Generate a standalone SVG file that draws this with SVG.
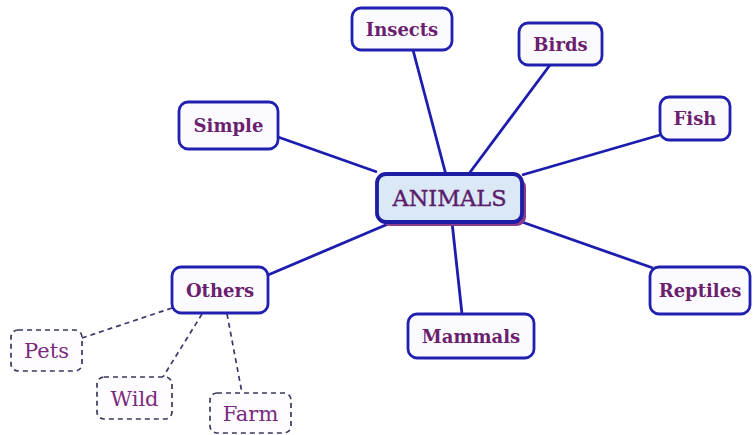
<svg xmlns="http://www.w3.org/2000/svg" width="753" height="435" viewBox="0 0 753 435">
<style>
.node rect{fill:#fbfbff;stroke:#2020b0;stroke-width:2.8}
.node text{font-family:"DejaVu Serif","Liberation Serif",serif;font-weight:bold;font-size:18px;fill:#6b1f6e;text-anchor:middle}
.sub rect{fill:#fefcff;stroke:#38385c;stroke-width:1.7;stroke-dasharray:5 4}
.sub text{font-family:"DejaVu Serif","Liberation Serif",serif;font-size:21px;fill:#7a2a7e;text-anchor:middle}
.edge{stroke:#1c1cae;stroke-width:2.8;fill:none}
.dash{stroke:#38386a;stroke-width:1.7;stroke-dasharray:5 4;fill:none}
</style>
<rect width="753" height="435" fill="#ffffff"/>
<g id="connectors">
<line class="edge" x1="413" y1="50" x2="446" y2="175"/>
<line class="edge" x1="550" y1="65" x2="468" y2="175"/>
<line class="edge" x1="660" y1="135" x2="522" y2="175"/>
<line class="edge" x1="278" y1="137" x2="377" y2="172"/>
<line class="edge" x1="268" y1="275" x2="388" y2="224"/>
<line class="edge" x1="452" y1="222" x2="462" y2="314"/>
<line class="edge" x1="522" y1="222" x2="653" y2="268"/>
<line class="dash" x1="172" y1="308" x2="82" y2="338"/>
<line class="dash" x1="202" y1="314" x2="163" y2="377"/>
<line class="dash" x1="227" y1="314" x2="242" y2="393"/>
</g>
<g id="animals">
<rect x="381" y="178" width="145" height="48" rx="9" fill="#8c3c8c"/>
<rect x="377" y="174" width="145" height="48" rx="9" fill="#dbe9f6" stroke="#1c1ca4" stroke-width="3.8"/>
<text x="449.5" y="206" font-family="DejaVu Serif, Liberation Serif, serif" font-size="22" fill="#5c1c6c" stroke="#5c1c6c" stroke-width="0.4" text-anchor="middle" textLength="114" lengthAdjust="spacingAndGlyphs">ANIMALS</text>
</g>
<g id="insects" class="node"><rect x="352" y="8" width="100" height="42" rx="9"/><text x="402" y="35.5">Insects</text></g>
<g id="birds" class="node"><rect x="519" y="23" width="83" height="42" rx="9"/><text x="560.5" y="50.5">Birds</text></g>
<g id="simple" class="node"><rect x="179" y="102" width="99" height="47" rx="9"/><text x="228.5" y="132">Simple</text></g>
<g id="fish" class="node"><rect x="660" y="97" width="70" height="43" rx="9"/><text x="695" y="125">Fish</text></g>
<g id="others" class="node"><rect x="172" y="267" width="96" height="46" rx="9"/><text x="220" y="296.5">Others</text></g>
<g id="reptiles" class="node"><rect x="650" y="267" width="100" height="47" rx="9"/><text x="700" y="297">Reptiles</text></g>
<g id="mammals" class="node"><rect x="408" y="314" width="126" height="44" rx="9"/><text x="471" y="342.5">Mammals</text></g>
<g id="pets" class="sub"><rect x="11" y="330" width="71" height="41" rx="7"/><text x="46.5" y="358">Pets</text></g>
<g id="wild" class="sub"><rect x="97" y="377" width="75" height="42" rx="7"/><text x="134.5" y="405.5">Wild</text></g>
<g id="farm" class="sub"><rect x="210" y="393" width="81" height="40" rx="7"/><text x="250.5" y="420.5">Farm</text></g>
</svg>
